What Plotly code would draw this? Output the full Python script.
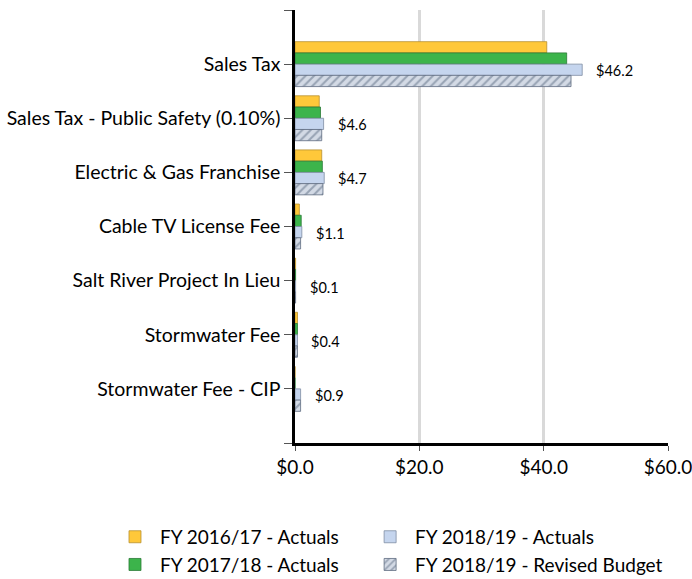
import plotly.graph_objects as go

categories = ["Sales Tax", "Sales Tax - Public Safety (0.10%)", "Electric & Gas Franchise",
              "Cable TV License Fee", "Salt River Project In Lieu", "Stormwater Fee",
              "Stormwater Fee - CIP"]
fy1617_actuals = [40.5, 3.9, 4.3, 0.7, 0.1, 0.4, 0.0]
fy1718_actuals = [43.7, 4.1, 4.4, 1.0, 0.1, 0.4, 0.0]
fy1819_actuals = [46.2, 4.6, 4.7, 1.1, 0.1, 0.4, 0.9]
fy1819_revised = [44.4, 4.3, 4.5, 0.9, 0.1, 0.4, 0.9]
x_ticks = [0, 20, 40, 60]
x_tick_labels = ["$0.0", "$20.0", "$40.0", "$60.0"]

FONT = "Lato"
pos = list(range(len(categories)))

fig = go.Figure()
series = [
    ("FY 2016/17 - Actuals", fy1617_actuals, dict(color="#FFC83A", line=dict(color="#B89030", width=0.8)), "legend"),
    ("FY 2017/18 - Actuals", fy1718_actuals, dict(color="#3CB44B", line=dict(color="#2A7A36", width=0.8)), "legend"),
    ("FY 2018/19 - Actuals", fy1819_actuals, dict(color="#C5D5EE", line=dict(color="#7F8DA3", width=0.8)), "legend2"),
    ("FY 2018/19 - Revised Budget", fy1819_revised,
     dict(color="#D3DAE5", line=dict(color="#5E6B80", width=0.8),
          pattern=dict(shape="/", fgcolor="#5C6B82", bgcolor="#D3DAE5", size=6, solidity=0.35)), "legend2"),
]
for name, vals, marker, lg in series:
    fig.add_trace(go.Bar(
        name=name, x=vals, y=pos, orientation="h", marker=marker, legend=lg,
    ))

# value labels next to FY 2018/19 Actuals bars
n = 4
group = 0.83
w = group / n
offset = -group / 2 + w * 2.5
for i, v in enumerate(fy1819_actuals):
    fig.add_annotation(x=v, y=i + offset, text=f"${v:.1f}", showarrow=False,
                       xanchor="left", xshift=12, yshift=-1,
                       font=dict(family=FONT, size=14.5, color="#000000"))

legend_common = dict(orientation="v", y=-0.173, yanchor="top", xanchor="left",
                     traceorder="normal", tracegroupgap=0, itemwidth=40,
                     bgcolor="rgba(0,0,0,0)",
                     font=dict(family=FONT, size=19, color="#000000"))

fig.update_layout(
    width=692, height=579,
    margin=dict(l=295, r=24, t=10, b=136, autoexpand=False),
    barmode="group", bargap=0.17, bargroupgap=0,
    plot_bgcolor="white", paper_bgcolor="white",
    font=dict(family=FONT, size=19, color="#000000"),
    legend=dict(x=-0.496, **legend_common),
    legend2=dict(x=0.188, **legend_common),
    xaxis=dict(range=[0, 60], tickvals=x_ticks, ticktext=x_tick_labels,
               showgrid=True, gridcolor="#D9D9D9", gridwidth=2.5,
               showline=True, linecolor="#000000", linewidth=2.5,
               ticks="outside", ticklen=5, tickcolor="#555555",
               ticklabeloverflow="allow",
               zeroline=False, tickfont=dict(size=19)),
    yaxis=dict(range=[len(categories), -1], tickvals=list(range(-1, len(categories) + 1)),
               ticktext=[""] + categories + [""],
               showgrid=False, showline=True, linecolor="#000000", linewidth=2.5,
               ticks="outside", ticklen=8, tickcolor="#555555", zeroline=False,
               ticklabelstandoff=0, tickfont=dict(size=19.5)),
)

fig.write_html("out.html", config={"displayModeBar": False},
               post_script="document.body.style.margin='0';")
